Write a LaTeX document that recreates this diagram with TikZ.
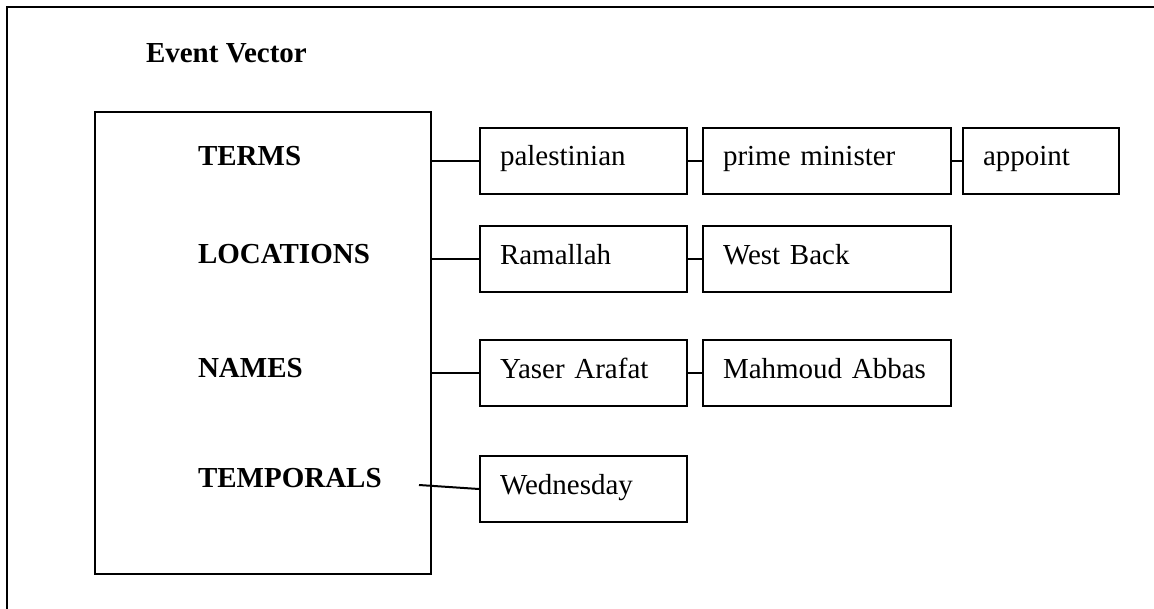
\documentclass[tikz,border=0pt]{standalone}
\usepackage{fontspec}
\setmainfont{Liberation Serif}
\begin{document}
\begin{tikzpicture}[x=0.5pt, y=-0.5pt, line width=1pt,
  font=\fontsize{14.5}{17}\selectfont,
  label/.style={anchor=base west, inner sep=0pt, font=\fontsize{14.5}{17}\selectfont\bfseries},
  item/.style={draw, anchor=north west, minimum height=33pt, inner xsep=10pt,
    text height=9pt, text depth=4pt, align=left, text width=#1}]
  \useasboundingbox (0,0) rectangle (1154,609);
  \draw[line width=1.3pt] (7,609) -- (7,7) -- (1154,7);
  \node[label] (title) at (145,63) {Event Vector};
  % the vector and its fields
  \node[draw, anchor=north west, minimum width=168pt, minimum height=231pt, inner sep=0pt] (vec) at (94,111) {};
  \node[label] (terms) at (197,166) {TERMS};
  \node[label] (locs) at (197,263) {LOCATIONS};
  \node[label] (names) at (197,377) {NAMES};
  \node[label] (temps) at (197,487) {TEMPORALS};
  % values
  \node[item=83.5pt] (pal) at (479,127) {palestinian};
  \node[item=104pt] (pm) at (702,127) {prime minister};
  \node[item=58pt] (appoint) at (962,127) {appoint};
  \node[item=83.5pt] (ram) at (479,225) {Ramallah};
  \node[item=104pt] (wb) at (702,225) {West Back};
  \node[item=83.5pt] (yaser) at (479,339) {Yaser Arafat};
  \node[item=104pt] (abbas) at (702,339) {Mahmoud Abbas};
  \node[item=83.5pt] (wed) at (479,455) {Wednesday};
  % links
  \draw (vec.east |- pal.west) -- (pal) -- (pm) -- (appoint);
  \draw (vec.east |- ram.west) -- (ram) -- (wb);
  \draw (vec.east |- yaser.west) -- (yaser) -- (abbas);
  \coordinate (tstart) at (419,485);
  \draw (tstart) -- (wed.west);
\end{tikzpicture}
\end{document}
